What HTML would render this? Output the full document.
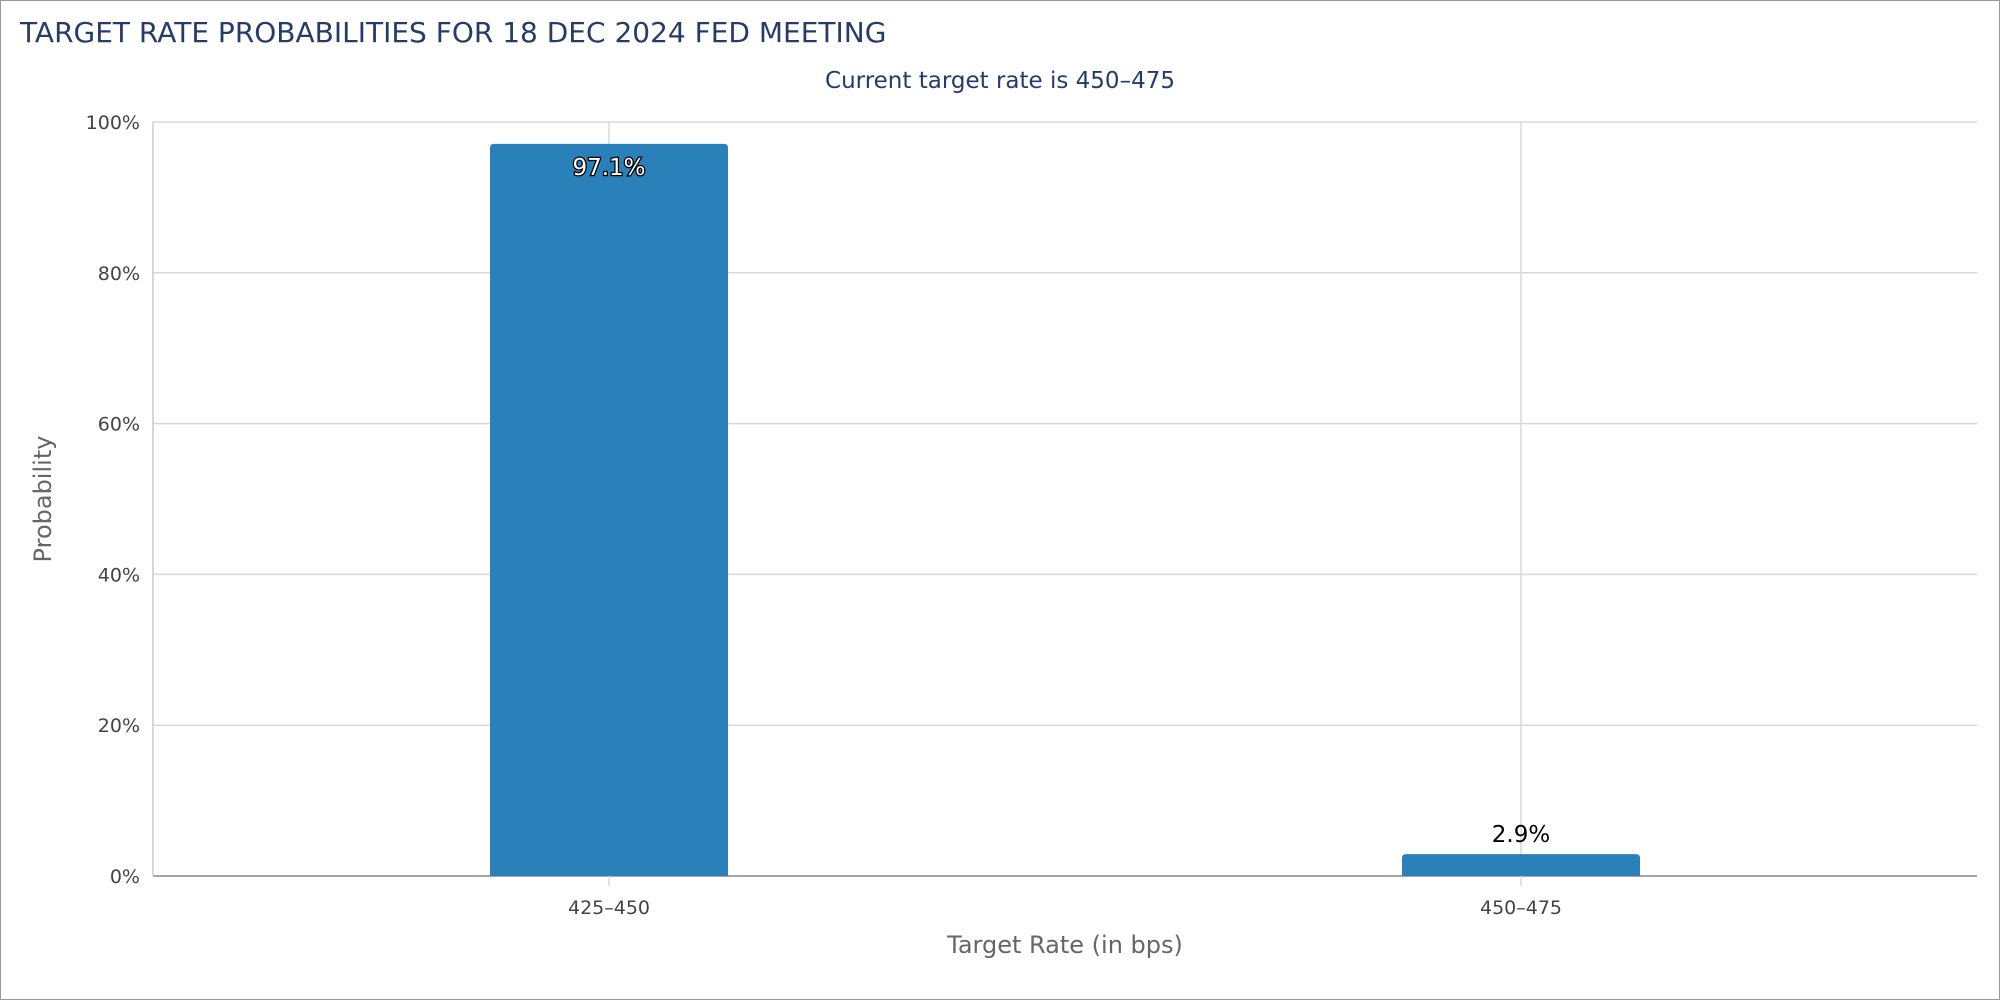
<!DOCTYPE html>
<html><head><meta charset="utf-8"><style>
body{margin:0;width:2000px;height:1000px;background:#fff;overflow:hidden}
svg{font-family:"DejaVu Sans","Liberation Sans",sans-serif}
</style></head><body>
<svg width="2000" height="1000">
<rect x="0.5" y="0.5" width="1999" height="999" fill="#fff" stroke="#999"/>
<text x="20" y="42" font-size="28" fill="#253c6b">TARGET RATE PROBABILITIES FOR 18 DEC 2024 FED MEETING</text>
<text x="1000" y="88" font-size="23" fill="#253c6b" text-anchor="middle">Current target rate is 450–475</text>
<g id="grid"></g><g id="bars"></g><g id="labels"></g>
<text x="1065" y="953" font-size="24" fill="#666" text-anchor="middle">Target Rate (in bps)</text>
<text transform="translate(51,499) rotate(-90)" font-size="24" fill="#666" text-anchor="middle">Probability</text>
</svg>
<script>
const categories=["425–450","450–475"];
const values=[97.1,2.9];
const yTicks=[0,20,40,60,80,100];
const L=153,R=1977,T=122,B=876;
const NS="http://www.w3.org/2000/svg";
const y=v=>B-(v/100)*(B-T);
const bw=(R-L)/categories.length;
const x=i=>L+bw*(i+0.5);
function mk(p,tag,a){const e=document.createElementNS(NS,tag);for(const k in a)e.setAttribute(k,a[k]);p.appendChild(e);return e;}
const g=document.getElementById('grid'),b=document.getElementById('bars'),lb=document.getElementById('labels');
yTicks.forEach(t=>{
 const l=mk(g,'line',{x1:L,x2:R,y1:y(t),y2:y(t),stroke:t===0?'#888':'#d8d8d8','stroke-width':1.5});
 
 
 const tx=mk(g,'text',{x:L-13,y:y(t)+7,'font-size':19,fill:'#444','text-anchor':'end'});
 tx.textContent=t+'%';
 
 
});
mk(g,'line',{x1:L,x2:L,y1:T,y2:B,stroke:'#ccc','stroke-width':1.5});
categories.forEach((c,i)=>{
 const vl=mk(g,'line',{x1:x(i),x2:x(i),y1:T,y2:B+10,stroke:'#d8d8d8','stroke-width':1.5});
 
 
 const w=238,h=B-y(values[i]);
 const r=mk(b,'path',{d:`M${x(i)-w/2},${B} V${y(values[i])+4} q0,-4 4,-4 H${x(i)+w/2-4} q4,0 4,4 V${B} Z`,fill:'#2a80b9'});
 
 
 const t=mk(lb,'text',{x:x(i),y:B+38,'font-size':19,fill:'#444','text-anchor':'middle'});
 t.textContent=c;
 
 
 const inside=values[i]>10;
 const d=mk(lb,'text',{x:x(i),y:inside?y(values[i])+31:y(values[i])-12,'font-size':23,'text-anchor':'middle',fill:inside?'#fff':'#000'});
 if(inside){d.setAttribute('stroke','#000');d.setAttribute('stroke-width','2.5');d.setAttribute('paint-order','stroke');}
 d.textContent=values[i]+'%';
 
 
});
</script>
</body></html>
